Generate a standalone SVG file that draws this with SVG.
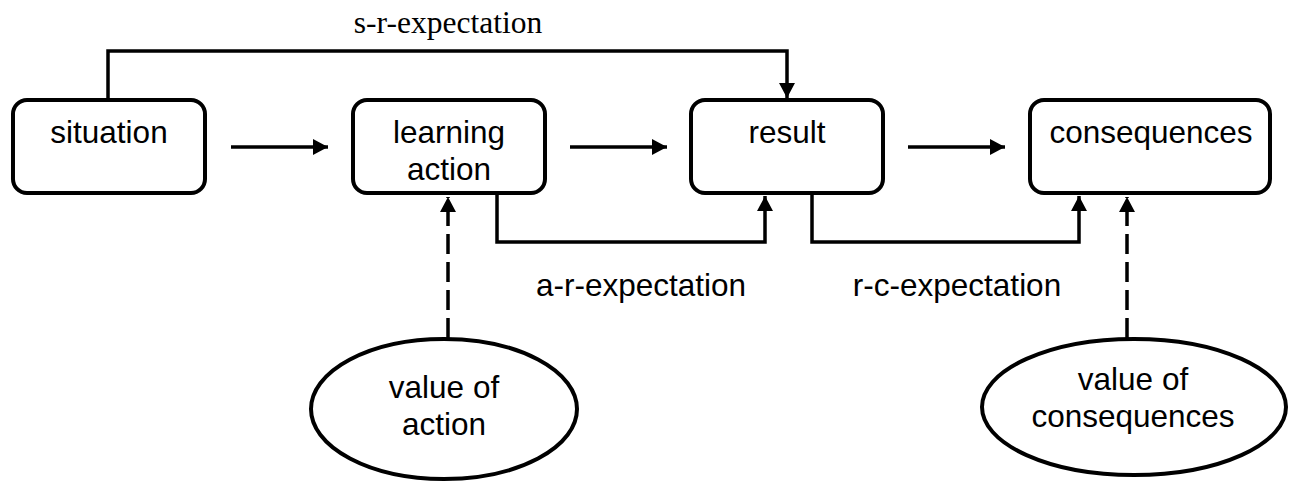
<svg xmlns="http://www.w3.org/2000/svg" width="1295" height="482" viewBox="0 0 1295 482">
<defs>
<style>
.box{fill:#fff;stroke:#000;stroke-width:4}
.ell{fill:#fff;stroke:#000;stroke-width:4}
.lbl{font-family:"Liberation Sans",Arial,sans-serif;font-size:31.5px;fill:#000;text-anchor:middle}
.serif{font-family:"Liberation Serif","Times New Roman",serif;font-size:31.5px;fill:#000;text-anchor:middle}
.conn{fill:none;stroke:#000;stroke-width:3.5}
.dash{stroke-dasharray:20 8}
</style>
<marker id="ah" viewBox="0 0 15 16" markerWidth="15" markerHeight="16" refX="15" refY="8" orient="auto" markerUnits="userSpaceOnUse">
<path d="M0,0 L15,8 L0,16 Z" fill="#000"/>
</marker>
</defs>
<rect width="1295" height="482" fill="#fff"/>
<g id="connectors">
<line class="conn" x1="231" y1="147" x2="328" y2="147" marker-end="url(#ah)"/>
<line class="conn" x1="570" y1="147" x2="667" y2="147" marker-end="url(#ah)"/>
<line class="conn" x1="908" y1="147" x2="1005" y2="147" marker-end="url(#ah)"/>
<polyline class="conn" points="108,98 108,51 787,51 787,98" marker-end="url(#ah)"/>
<polyline class="conn" points="497,195 497,242 765,242 765,196" marker-end="url(#ah)"/>
<polyline class="conn" points="812,195 812,242 1079,242 1079,196" marker-end="url(#ah)"/>
<line class="conn dash" x1="448" y1="338" x2="448" y2="197" marker-end="url(#ah)"/>
<line class="conn dash" x1="1127" y1="338" x2="1127" y2="197" marker-end="url(#ah)"/>
<text class="serif" x="448" y="33">s-r-expectation</text>
<text class="lbl" x="641" y="296">a-r-expectation</text>
<text class="lbl" x="957" y="296">r-c-expectation</text>
</g>
<g id="situation">
<rect class="box" x="13" y="100" width="192" height="93" rx="14"/>
<text class="lbl" x="109" y="143">situation</text>
</g>
<g id="learning-action">
<rect class="box" x="353" y="100" width="192" height="93" rx="14"/>
<text class="lbl" x="449" y="143">learning</text>
<text class="lbl" x="449" y="180">action</text>
</g>
<g id="result">
<rect class="box" x="691" y="100" width="192" height="93" rx="14"/>
<text class="lbl" x="787" y="143">result</text>
</g>
<g id="consequences">
<rect class="box" x="1030" y="100" width="240" height="93" rx="14"/>
<text class="lbl" x="1151" y="143">consequences</text>
</g>
<g id="value-of-action">
<ellipse class="ell" cx="444" cy="409" rx="133" ry="70"/>
<text class="lbl" x="444" y="398">value of</text>
<text class="lbl" x="444" y="435">action</text>
</g>
<g id="value-of-consequences">
<ellipse class="ell" cx="1134" cy="407" rx="152" ry="68"/>
<text class="lbl" x="1133" y="390">value of</text>
<text class="lbl" x="1133" y="427">consequences</text>
</g>
</svg>
